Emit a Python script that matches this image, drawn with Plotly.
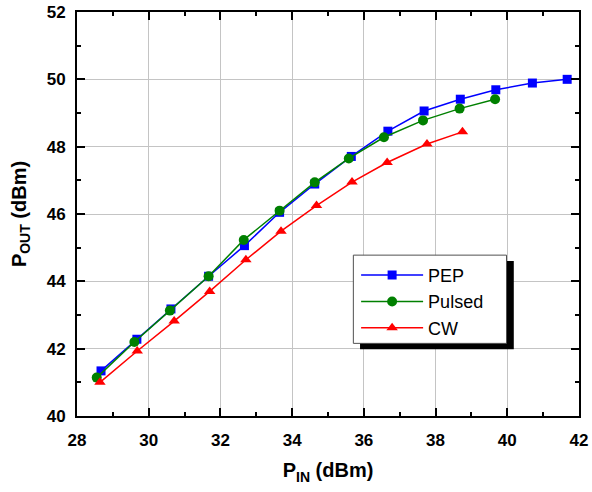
import plotly.graph_objects as go

# ---- data ----
pep_x = [28.67, 29.67, 30.62, 31.67, 32.67, 33.65, 34.63, 35.65, 36.67, 37.68, 38.69, 39.68, 40.70, 41.67]
pep_y = [41.34, 42.28, 43.18, 44.15, 45.06, 46.05, 46.89, 47.71, 48.46, 49.06, 49.41, 49.69, 49.89, 50.00]
pulsed_x = [28.55, 29.60, 30.59, 31.67, 32.65, 33.65, 34.63, 35.58, 36.56, 37.65, 38.67, 39.66]
pulsed_y = [41.14, 42.20, 43.13, 44.15, 45.23, 46.10, 46.94, 47.65, 48.28, 48.78, 49.13, 49.41]
cw_x = [28.64, 29.68, 30.71, 31.70, 32.71, 33.69, 34.68, 35.67, 36.65, 37.76, 38.75]
cw_y = [41.00, 41.93, 42.82, 43.70, 44.64, 45.49, 46.25, 46.95, 47.53, 48.08, 48.44]

x_ticks = [28, 30, 32, 34, 36, 38, 40, 42]
y_ticks = [40, 42, 44, 46, 48, 50, 52]

FONT = "Arial, 'Liberation Sans', sans-serif"

fig = go.Figure()
fig.add_trace(go.Scatter(x=pep_x, y=pep_y, name="PEP", mode="lines+markers",
                         line=dict(color="#0000FF", width=1.5),
                         marker=dict(symbol="square", size=9, color="#0000FF")))
fig.add_trace(go.Scatter(x=pulsed_x, y=pulsed_y, name="Pulsed", mode="lines+markers",
                         line=dict(color="#008000", width=1.5),
                         marker=dict(symbol="circle", size=10, color="#008000")))
fig.add_trace(go.Scatter(x=cw_x, y=cw_y, name="CW", mode="lines+markers",
                         line=dict(color="#FF0000", width=1.5),
                         marker=dict(symbol="triangle-up", size=10, color="#FF0000")))

axis_common = dict(
    showline=True, linecolor="black", linewidth=2, mirror="ticks",
    ticks="inside", ticklen=8, tickwidth=1.5, tickcolor="black",
    showgrid=True, gridcolor="#c4c4c4", gridwidth=1,
    zeroline=False, automargin=False,
    tickfont=dict(family=FONT, size=17, color="black", weight="bold"),
    minor=dict(ticks="inside", ticklen=4, tickwidth=1.5, tickcolor="black", dtick=1, showgrid=False),
)

fig.update_xaxes(range=[28, 42], tickmode="array", tickvals=x_ticks, ticktext=[str(v) for v in x_ticks],
                 ticklabelstandoff=8,
                 title=dict(text="P<sub>IN</sub> (dBm)", font=dict(family=FONT, size=20, color="black", weight="bold"),
                            standoff=14),
                 **axis_common)
fig.update_yaxes(range=[40, 52], tickmode="array", tickvals=y_ticks, ticktext=[str(v) for v in y_ticks],
                 ticklabelstandoff=6,
                 title=dict(text="P<sub>OUT</sub> (dBm)", font=dict(family=FONT, size=20, color="black", weight="bold"),
                            standoff=15),
                 **axis_common)

# legend box + shadow
fig.add_shape(type="rect", xref="paper", yref="paper", x0=0.5638, x1=0.8701, y0=0.165, y1=0.3834,
              fillcolor="black", line=dict(width=0), layer="above")
fig.add_shape(type="rect", xref="paper", yref="paper", x0=0.5505, x1=0.8556, y0=0.1798, y1=0.3982,
              fillcolor="white", line=dict(color="#505050", width=1), layer="above")

fig.update_layout(
    width=592, height=492,
    margin=dict(l=76.5, r=12.7, t=11.7, b=76, autoexpand=False),
    paper_bgcolor="white", plot_bgcolor="white",
    font=dict(family=FONT, color="black"),
    showlegend=True,
    legend=dict(x=0.556, y=0.394, xanchor="left", yanchor="top",
                bgcolor="rgba(0,0,0,0)", borderwidth=0,
                font=dict(family=FONT, size=18, color="black"),
                itemwidth=62, tracegroupgap=0),
)

fig.write_html("out.html", config={"displayModeBar": False},
               post_script="document.body.style.margin='0';document.body.style.padding='0';")
